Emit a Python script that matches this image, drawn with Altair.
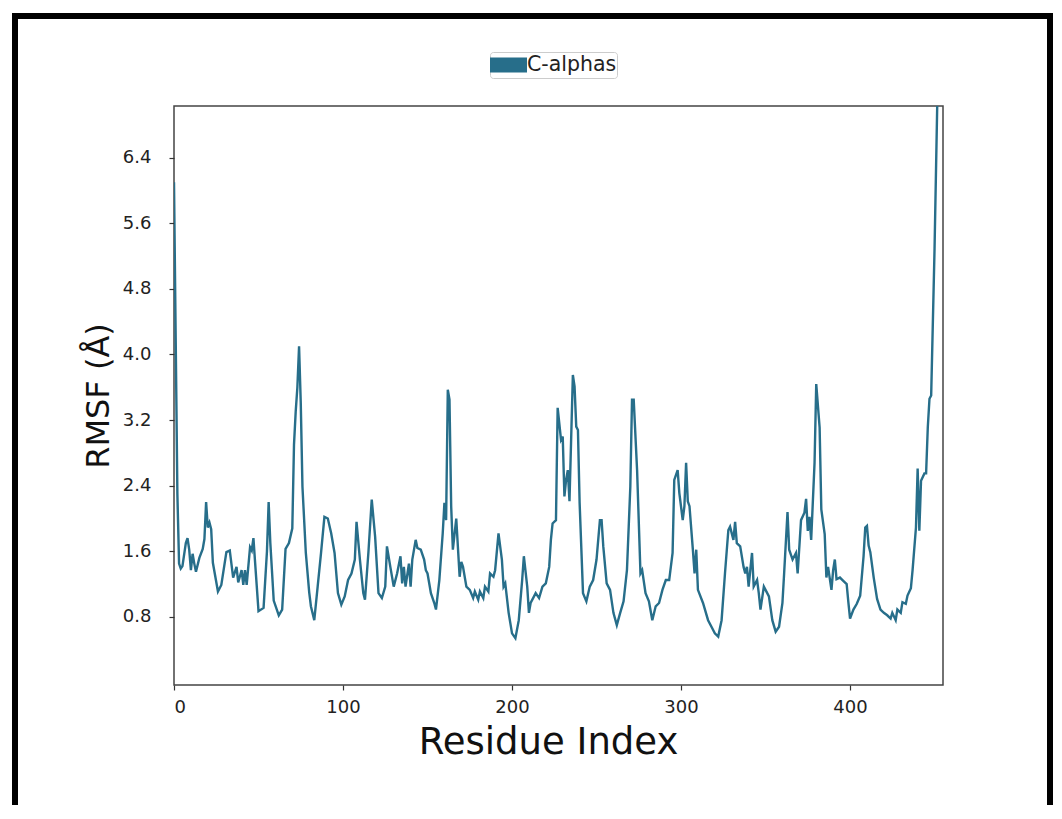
import altair as alt
import pandas as pd

# Residue index and C-alpha RMSF values
residue = [0, 1, 2, 3, 4, 5, 7, 8, 9, 10, 11, 12, 13, 15, 17, 18, 19, 20, 21, 22, 23, 26, 28,
           31, 33, 35, 37, 38, 40, 41, 42, 43, 45, 46, 47, 48, 50, 53, 55, 56, 57, 59, 62, 64,
           66, 68, 70, 71, 72, 73, 74, 75, 76, 78, 80, 81, 83, 85, 87, 89, 91, 93, 95, 97, 99,
           101, 103, 105, 107, 108, 110, 112, 113, 115, 117, 119, 121, 123, 125, 126, 128, 130,
           132, 134, 135, 136, 137, 139, 140, 141, 143, 144, 146, 148, 149, 150, 151, 152, 154,
           155, 157, 159, 160, 161, 162, 163, 164, 165, 167, 169, 170, 171, 173, 175, 177, 178,
           180, 181, 183, 184, 186, 187, 189, 190, 192, 194, 195, 196, 198, 200, 202, 204, 206,
           207, 209, 210, 211, 214, 216, 218, 220, 222, 223, 224, 226, 227, 229, 230, 231, 232,
           233, 234, 236, 237, 238, 239, 240, 242, 244, 246, 248, 250, 252, 253, 254, 256, 258,
           260, 262, 264, 266, 268, 270, 271, 272, 274, 276, 277, 279, 281, 283, 285, 287, 289,
           291, 293, 295, 296, 298, 299, 301, 302, 303, 304, 305, 307, 308, 309, 310, 313, 316,
           318, 320, 322, 324, 326, 328, 329, 331, 332, 333, 335, 337, 338, 339, 340, 342, 343,
           345, 346, 347, 349, 350, 352, 354, 356, 358, 360, 361, 363, 364, 366, 368, 369, 371,
           373, 374, 375, 376, 377, 379, 380, 382, 383, 385, 386, 387, 389, 390, 391, 392, 394,
           396, 398, 399, 400, 402, 404, 406, 408, 409, 410, 411, 412, 414, 416, 418, 420, 422,
           424, 425, 427, 428, 430, 431, 433, 434, 436, 437, 439, 440, 441, 442, 444, 445, 446,
           447, 448, 450, 452]
rmsf = [6.1, 4.2, 2.3, 1.45, 1.39, 1.42, 1.7, 1.76, 1.62, 1.37, 1.57, 1.45, 1.35, 1.52, 1.63,
        1.75, 2.2, 1.89, 1.95, 1.87, 1.46, 1.11, 1.19, 1.59, 1.61, 1.28, 1.41, 1.22, 1.37, 1.19,
        1.37, 1.19, 1.65, 1.61, 1.76, 1.46, 0.87, 0.91, 1.6, 2.2, 1.7, 1.0, 0.82, 0.89, 1.63,
        1.7, 1.88, 2.9, 3.3, 3.6, 4.1, 3.41, 2.39, 1.58, 1.1, 0.93, 0.76, 1.17, 1.58, 2.02, 2.0,
        1.82, 1.58, 1.09, 0.95, 1.05, 1.25, 1.33, 1.5, 1.96, 1.5, 1.09, 1.01, 1.58, 2.23, 1.78,
        1.09, 1.03, 1.17, 1.66, 1.41, 1.17, 1.33, 1.54, 1.21, 1.41, 1.17, 1.45, 1.17, 1.5, 1.74,
        1.64, 1.62, 1.5, 1.37, 1.33, 1.21, 1.09, 0.97, 0.89, 1.25, 1.82, 2.19, 1.98, 3.57, 3.45,
        2.15, 1.62, 2.0, 1.29, 1.47, 1.41, 1.17, 1.13, 1.03, 1.11, 1.01, 1.11, 1.03, 1.17, 1.11,
        1.33, 1.29, 1.37, 1.82, 1.5, 1.17, 1.21, 0.85, 0.6, 0.54, 0.76, 1.25, 1.54, 1.17, 0.85,
        0.97, 1.09, 1.03, 1.17, 1.21, 1.41, 1.74, 1.94, 1.98, 3.35, 2.96, 3.0, 2.27, 2.47, 2.59,
        2.21, 3.75, 3.61, 3.12, 3.08, 2.19, 1.09, 0.99, 1.17, 1.25, 1.5, 1.98, 1.98, 1.66, 1.21,
        1.13, 0.85, 0.7, 0.85, 0.99, 1.37, 2.39, 3.45, 3.45, 2.59, 1.33, 1.37, 1.09, 0.99, 0.76,
        0.93, 0.97, 1.13, 1.25, 1.25, 1.58, 2.47, 2.59, 2.31, 1.98, 2.15, 2.68, 2.21, 2.15, 1.62,
        1.33, 1.62, 1.13, 0.97, 0.76, 0.68, 0.6, 0.56, 0.76, 1.33, 1.86, 1.9, 1.74, 1.96, 1.7,
        1.66, 1.41, 1.33, 1.41, 1.17, 1.58, 1.17, 1.25, 1.09, 0.89, 1.17, 1.13, 1.05, 0.76, 0.62,
        0.68, 0.97, 1.33, 2.08, 1.62, 1.5, 1.58, 1.33, 1.98, 2.07, 2.24, 1.85, 2.02, 1.74, 2.68,
        3.64, 3.11, 2.11, 1.81, 1.28, 1.41, 1.13, 1.37, 1.5, 1.26, 1.28, 1.24, 1.2, 0.98, 0.78,
        0.89, 0.96, 1.06, 1.54, 1.89, 1.91, 1.67, 1.59, 1.28, 1.02, 0.89, 0.85, 0.82, 0.78, 0.85,
        0.76, 0.89, 0.85, 0.98, 0.96, 1.06, 1.15, 1.37, 1.89, 2.61, 1.85, 2.46, 2.55, 2.55, 3.11,
        3.46, 3.5, 5.29, 7.5]
series_name = ["C-alphas"]
x_ticks = [0, 100, 200, 300, 400]
y_ticks = [0.8, 1.6, 2.4, 3.2, 4.0, 4.8, 5.6, 6.4]

LINE_COLOR = "#276e8a"
FONT = "DejaVu Sans"

df = pd.DataFrame({"Residue": residue, "RMSF": rmsf, "series": series_name[0]})

line = alt.Chart(df).mark_line(strokeWidth=2.4, clip=True).encode(
    x=alt.X(
        "Residue:Q",
        scale=alt.Scale(domain=[0, 455], nice=False, zero=False),
        axis=alt.Axis(values=x_ticks, title="Residue Index", format="d",
                      titleX=374, titleY=57, titleBaseline="middle",
                      titleFontSize=37),
    ),
    y=alt.Y(
        "RMSF:Q",
        scale=alt.Scale(domain=[-0.03, 7.03], nice=False, zero=False),
        axis=alt.Axis(values=y_ticks, title="RMSF (Å)", format=".1f",
                      titleX=-76, titleY=289.5, titleAngle=270,
                      titleBaseline="middle", titleAlign="center",
                      titleFontSize=32),
    ),
    color=alt.Color(
        "series:N",
        scale=alt.Scale(domain=series_name, range=[LINE_COLOR]),
        legend=alt.Legend(
            title=None, orient="none", legendX=316, legendY=-54,
            symbolType="M-1,-0.4H1V0.4H-1Z", symbolSize=1369,
            symbolStrokeWidth=0, symbolFillColor=LINE_COLOR,
            clipHeight=26,
            strokeColor="#cccccc", fillColor="white", padding=0, cornerRadius=3,
            labelFont=FONT, labelFontSize=20.5, labelColor="#222222", labelOffset=0,
        ),
    ),
)

# decorative outer frame of the figure image
frame = alt.Chart(pd.DataFrame({"k": [0]})).mark_rect(
    filled=False, stroke="black", strokeWidth=6
).encode(
    x=alt.value(-159), x2=alt.value(876), y=alt.value(-90), y2=alt.value(760)
)

chart = alt.layer(line, frame).properties(
    width=769, height=579,
    autosize=alt.AutoSizeParams(type="none"),
    padding={"left": 166, "top": 98, "right": 111, "bottom": 120},
    background="white",
).configure_view(
    stroke="#444444", strokeWidth=1.5
).configure_axis(
    domain=False, grid=False,
    labelFont=FONT, labelFontSize=18, labelColor="#222222",
    tickColor="#333333", tickSize=5, tickWidth=1.2,
    titleFont=FONT, titleFontSize=34, titleFontWeight="normal", titleColor="#111111",
).configure_axisLeft(
    labelPadding=18
).configure_axisBottom(
    labelPadding=8
)

chart.save("out.html", embed_options={"renderer": "svg", "actions": False})
